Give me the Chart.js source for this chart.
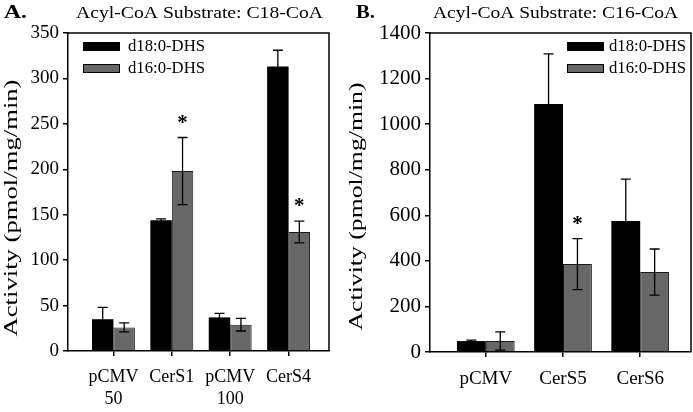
<!DOCTYPE html>
<html>
<head>
<meta charset="utf-8">
<title>Acyl-CoA substrate activity</title>
<script src="https://cdn.jsdelivr.net/npm/chart.js@4.4.1/dist/chart.umd.min.js"></script>
<style>
  html, body { margin: 0; padding: 0; background: #fff; }
  #wrap { position: relative; width: 693px; height: 412px; overflow: hidden; }
  .panel { position: absolute; top: 0; height: 412px; }
  #panel-a { left: 0; width: 343px; }
  #panel-b { left: 343px; width: 350px; }
</style>
</head>
<body>
<div id="wrap">
  <div class="panel" id="panel-a"><canvas id="chart-a"></canvas></div>
  <div class="panel" id="panel-b"><canvas id="chart-b"></canvas></div>
</div>
<script>
const seriesNames = ['d18:0-DHS', 'd16:0-DHS'];
const yTitle = 'Activity (pmol/mg/min)';

// Panel A: C18-CoA substrate
const catsA     = [['pCMV', '50'], 'CerS1', ['pCMV', '100'], 'CerS4'];
const d18A      = [35, 144, 37, 313];
const d18ErrA   = [13, 1.5, 4.5, 18];
const d16A      = [26, 198, 29, 131];
const d16ErrA   = [5, 37, 7, 12];
const d16SigA   = [false, true, false, true];

// Panel B: C16-CoA substrate
const catsB     = ['pCMV', 'CerS5', 'CerS6'];
const d18B      = [48, 1088, 575];
const d18ErrB   = [4, 220, 184];
const d16B      = [48, 386, 351];
const d16ErrB   = [40, 112, 101];
const d16SigB   = [false, true, false];

const SERIF = '"Liberation Serif", "Times New Roman", serif';
Chart.defaults.font.family = SERIF;
Chart.defaults.color = '#000';

// draw text squeezed/stretched to a given width (the source figure is not square-pixel)
function fillFitted(ctx, text, x, y, width, align) {
  const w = ctx.measureText(text).width;
  ctx.save();
  ctx.translate(x, y);
  ctx.scale(width ? width / w : 1, 1);
  ctx.textAlign = align || 'left';
  ctx.fillText(text, 0, 0);
  ctx.restore();
}

const errorBars = {
  id: 'errorBars',
  afterDatasetsDraw(chart) {
    const ctx = chart.ctx;
    const y = chart.scales.y;
    const cap = 5;
    ctx.save();
    ctx.strokeStyle = '#000';
    ctx.fillStyle = '#000';
    ctx.lineWidth = 1.3;
    chart.data.datasets.forEach((ds, i) => {
      chart.getDatasetMeta(i).data.forEach((bar, j) => {
        const v = ds.data[j], e = ds.errors[j];
        const top = y.getPixelForValue(v + e);
        const bot = y.getPixelForValue(Math.max(v - e, 0));
        ctx.beginPath();
        ctx.moveTo(bar.x, top); ctx.lineTo(bar.x, bot);
        ctx.moveTo(bar.x - cap, top); ctx.lineTo(bar.x + cap, top);
        ctx.moveTo(bar.x - cap, bot); ctx.lineTo(bar.x + cap, bot);
        ctx.stroke();
        if (ds.sig && ds.sig[j]) {
          ctx.font = 'bold 21px ' + SERIF;
          ctx.textAlign = 'center';
          ctx.textBaseline = 'middle';
          ctx.fillText('*', bar.x, top - 14);
        }
      });
    });
    ctx.restore();
  }
};

const panelDecor = {
  id: 'panelDecor',
  afterDraw(chart, args, o) {
    const ctx = chart.ctx;
    const a = chart.chartArea;
    ctx.save();
    ctx.fillStyle = '#000';
    ctx.strokeStyle = '#000';

    // frame: top and right edges (left/bottom come from the axes)
    ctx.lineWidth = 1.5;
    ctx.beginPath();
    ctx.moveTo(a.left, a.top); ctx.lineTo(a.right, a.top); ctx.lineTo(a.right, a.bottom);
    ctx.stroke();

    // panel letter + title
    ctx.textBaseline = 'alphabetic';
    ctx.font = 'bold 18px ' + SERIF;
    fillFitted(ctx, o.letter, o.letterX, 18, o.letterW, 'left');
    ctx.font = '17px ' + SERIF;
    fillFitted(ctx, o.title, o.titleCx, 18, o.titleW, 'center');

    // y title, rotated
    ctx.font = '18px ' + SERIF;
    ctx.textBaseline = 'middle';
    const w = ctx.measureText(yTitle).width;
    ctx.save();
    ctx.translate(o.yTitleX, (a.top + a.bottom) / 2 + o.yTitleShift);
    ctx.rotate(-Math.PI / 2);
    ctx.scale(o.yTitleLen / w, 1);
    ctx.textAlign = 'center';
    ctx.fillText(yTitle, 0, 0);
    ctx.restore();

    // legend
    ctx.font = '16px ' + SERIF;
    ctx.textBaseline = 'middle';
    chart.data.datasets.forEach((ds, i) => {
      const y = o.legendY + i * 22;
      ctx.fillStyle = ds.backgroundColor;
      ctx.fillRect(o.swatchX, y - 4.5, 37, 9);
      ctx.lineWidth = 1;
      ctx.strokeStyle = '#000';
      ctx.strokeRect(o.swatchX + 0.5, y - 4, 36, 8);
      ctx.fillStyle = '#000';
      fillFitted(ctx, ds.label, o.textX, y, 77, 'left');
    });
    ctx.restore();
  }
};

function makePanel(canvasId, p) {
  const positions = p.cats.map((c, i) => i + 1);
  return new Chart(document.getElementById(canvasId), {
    type: 'bar',
    data: {
      labels: positions,
      datasets: [
        { label: seriesNames[0], data: p.d18, errors: p.d18Err,
          backgroundColor: '#000000', borderWidth: 0 },
        { label: seriesNames[1], data: p.d16, errors: p.d16Err, sig: p.d16Sig,
          backgroundColor: '#676767', borderColor: '#1a1a1a', borderWidth: 1 },
      ],
    },
    options: {
      responsive: true,
      maintainAspectRatio: false,
      animation: false,
      devicePixelRatio: 1,
      categoryPercentage: p.catPct,
      barPercentage: 1,
      layout: { padding: { top: 33, right: p.padRight, left: 0, bottom: 0 } },
      plugins: {
        legend: { display: false },
        tooltip: { enabled: false },
        panelDecor: p.decor,
      },
      scales: {
        x: {
          type: 'linear',
          offset: false,
          min: p.xMin,
          max: p.xMax,
          afterBuildTicks: (scale) => { scale.ticks = positions.map(v => ({ value: v })); },
          afterFit: (scale) => { scale.height = p.xHeight; },
          grid: { offset: false, drawOnChartArea: false, color: '#000', lineWidth: 1.5, tickLength: 5 },
          border: { color: '#000', width: 1.5 },
          ticks: {
            callback: (v) => p.cats[v - 1],
            maxRotation: 0,
            autoSkip: false,
            padding: 10,
            font: { size: p.xFont, lineHeight: 1.25 },
          },
        },
        y: {
          min: 0,
          max: p.yMax,
          afterFit: (scale) => { scale.width = p.yWidth; },
          grid: { drawOnChartArea: false, color: '#000', lineWidth: 1.5, tickLength: 5 },
          border: { color: '#000', width: 1.5 },
          ticks: { stepSize: p.yStep, padding: 4, font: { size: p.yFont }, callback: (v) => String(v) },
        },
      },
    },
    plugins: [errorBars, panelDecor],
  });
}

makePanel('chart-a', {
  cats: catsA, d18: d18A, d18Err: d18ErrA, d16: d16A, d16Err: d16ErrA, d16Sig: d16SigA,
  xMin: 0.222, xMax: 4.692, yMax: 350, yStep: 50,
  catPct: 0.735, padRight: 14, xHeight: 61, yWidth: 68, xFont: 18, yFont: 19,
  decor: {
    letter: 'A.', letterX: 4, letterW: 23,
    title: 'Acyl-CoA Substrate: C18-CoA', titleCx: 199.5, titleW: 247,
    yTitleX: 12, yTitleShift: 16, yTitleLen: 257,
    swatchX: 83, textX: 128, legendY: 46.5,
  },
});

makePanel('chart-b', {
  cats: catsB, d18: d18B, d18Err: d18ErrB, d16: d16B, d16Err: d16ErrB, d16Sig: d16SigB,
  xMin: 0.277, xMax: 3.658, yMax: 1400, yStep: 200,
  catPct: 0.748, padRight: 2, xHeight: 60, yWidth: 87, xFont: 19, yFont: 21,
  decor: {
    letter: 'B.', letterX: 13, letterW: 19,
    title: 'Acyl-CoA Substrate: C16-CoA', titleCx: 212.5, titleW: 245,
    yTitleX: 14, yTitleShift: 14, yTitleLen: 248,
    swatchX: 224, textX: 266, legendY: 46.5,
  },
});
</script>
</body>
</html>
